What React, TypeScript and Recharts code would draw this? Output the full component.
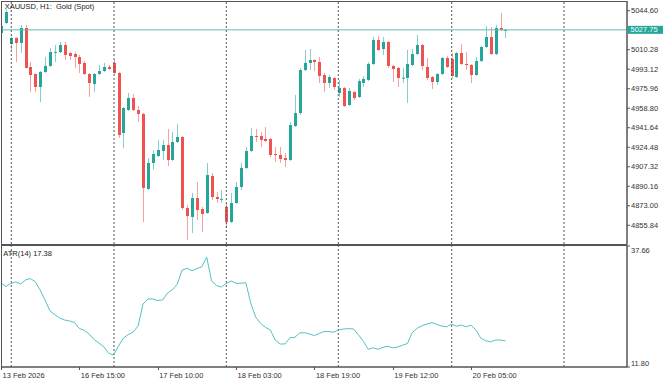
import React from 'react';
import { ComposedChart, Bar, Line, XAxis, YAxis, ReferenceLine } from 'recharts';

const barIndex = Array.from({ length: 104 }, (_, k) => k + 1);

const opens = [
  5024.98, 5033.78, 5015.31, 5020.59, 5016.19, 5029.38, 4995.08, 4988.92, 4977.48, 4990.68,
  4995.96, 5007.50, 5008.27, 5014.43, 5007.39, 5006.51, 5003.87, 4998.60, 4988.92, 4980.12,
  4988.92, 4991.56, 4995.08, 4998.60, 4989.80, 4937.02, 4957.25, 4967.81, 4957.25, 4953.74,
  4887.77, 4910.64, 4916.79, 4921.19, 4926.47, 4913.27, 4929.11, 4933.50, 4871.05, 4863.14,
  4879.85, 4870.17, 4866.66, 4899.20, 4880.73, 4878.40, 4871.93, 4858.74, 4875.45, 4889.52,
  4906.24, 4921.19, 4934.38, 4934.38, 4931.75, 4931.75, 4918.55, 4917.67, 4915.03, 4913.27,
  4943.18, 4954.62, 4992.44, 4998.60, 5001.23, 4999.47, 4988.04, 4981.00, 4985.40, 4972.21,
  4976.61, 4961.65, 4973.09, 4968.69, 4981.00, 4983.64, 4997.72, 5018.83, 5010.91, 5017.07,
  4995.96, 4994.20, 4985.20, 4985.40, 4996.84, 5006.51, 5014.43, 4995.08, 4986.28, 4981.88,
  4988.92, 5002.99, 5002.11, 4986.28, 5007.39, 4997.72, 4996.84, 4988.04, 5000.35, 5012.67,
  5021.46, 5006.51, 5029.38, 5027.40,
];

const highs = [
  5032.02, 5046.09, 5021.46, 5021.46, 5032.02, 5032.02, 4999.47, 4989.50, 4991.56, 5003.87,
  5011.79, 5014.43, 5017.07, 5017.07, 5008.27, 5008.27, 5005.63, 5000.35, 4989.80, 4989.80,
  4996.84, 4998.60, 4996.84, 5001.23, 4990.68, 4959.89, 4972.21, 4971.33, 4960.77, 4954.62,
  4915.03, 4922.07, 4930.87, 4930.87, 4940.54, 4937.90, 4944.94, 4934.38, 4873.69, 4884.25,
  4893.92, 4871.93, 4910.64, 4901.84, 4885.13, 4886.89, 4875.45, 4884.25, 4893.92, 4910.64,
  4924.71, 4941.42, 4940.54, 4937.90, 4942.30, 4932.63, 4924.71, 4924.71, 4919.43, 4946.70,
  4970.45, 4994.20, 5010.03, 5010.91, 5002.11, 5003.87, 4989.80, 4988.04, 4986.28, 4983.64,
  4977.48, 4976.61, 4973.97, 4984.52, 4987.16, 4999.47, 5021.46, 5022.34, 5021.46, 5017.95,
  4996.84, 4995.08, 4994.20, 5010.03, 5010.91, 5023.22, 5015.31, 5002.99, 4987.16, 4989.80,
  5003.87, 5004.75, 5007.39, 5008.27, 5015.31, 5008.27, 4997.72, 5003.87, 5013.55, 5031.14,
  5030.26, 5032.02, 5042.58, 5028.60,
];

const lows = [
  5024.10, 5032.90, 5010.03, 4999.47, 5007.39, 4993.80, 4973.09, 4973.09, 4964.29, 4989.80,
  4995.08, 4999.47, 5007.39, 5001.23, 5001.23, 4994.20, 4989.80, 4988.04, 4968.69, 4973.09,
  4988.04, 4990.68, 4992.44, 4988.92, 4932.63, 4923.83, 4956.37, 4956.37, 4946.70, 4858.74,
  4886.89, 4904.48, 4915.91, 4913.27, 4908.00, 4912.39, 4928.23, 4869.29, 4842.91, 4849.06,
  4860.50, 4849.94, 4865.78, 4878.09, 4875.45, 4875.45, 4853.46, 4857.86, 4874.57, 4886.89,
  4905.36, 4920.31, 4929.11, 4924.71, 4929.11, 4915.91, 4911.51, 4910.64, 4907.12, 4912.39,
  4942.30, 4952.86, 4991.56, 4992.44, 4991.56, 4981.00, 4973.09, 4976.61, 4974.85, 4968.69,
  4959.89, 4960.77, 4966.05, 4967.81, 4977.48, 4982.76, 4996.84, 5009.15, 5005.63, 4994.20,
  4981.88, 4977.48, 4981.00, 4963.41, 4995.96, 5005.63, 4992.44, 4983.64, 4975.73, 4979.24,
  4988.04, 4994.20, 4985.40, 4985.40, 4996.84, 4992.44, 4981.00, 4987.16, 4999.47, 5011.79,
  5005.63, 5005.63, 5026.74, 5020.59,
];

const closes = [
  5031.14, 5043.45, 5020.59, 5016.19, 5029.38, 4994.20, 4988.04, 4977.48, 4990.68, 4995.96,
  5008.27, 5008.40, 5014.43, 5005.63, 5004.75, 5003.87, 4997.72, 4988.92, 4981.00, 4988.92,
  4991.56, 4995.08, 4993.32, 4989.80, 4935.26, 4959.01, 4967.81, 4957.25, 4953.74, 4888.65,
  4910.64, 4918.55, 4922.07, 4926.47, 4913.27, 4929.11, 4933.50, 4871.05, 4864.02, 4879.85,
  4869.29, 4865.78, 4900.08, 4880.73, 4878.97, 4879.10, 4858.74, 4875.45, 4889.52, 4906.24,
  4921.19, 4934.38, 4933.50, 4930.87, 4929.99, 4917.67, 4917.67, 4914.15, 4913.27, 4944.06,
  4954.62, 4992.44, 4998.60, 5001.23, 4999.47, 4987.16, 4981.00, 4986.28, 4977.48, 4976.61,
  4960.77, 4973.97, 4967.81, 4982.76, 4984.52, 4997.72, 5018.83, 5010.03, 5017.07, 4995.96,
  4993.32, 4985.40, 4985.70, 4997.72, 5006.51, 5014.43, 4995.96, 4985.40, 4981.88, 4988.92,
  5002.99, 4995.08, 4987.16, 5007.39, 4997.72, 4996.84, 4988.04, 5000.35, 5012.67, 5021.46,
  5006.51, 5029.38, 5027.62, 5027.75,
];

const atrValues = [
  29.75, 29.00, 29.65, 29.97, 29.54, 30.39, 30.71, 30.03, 28.26, 26.12,
  23.77, 22.98, 22.27, 21.84, 21.63, 21.31, 20.03, 19.64, 18.85, 17.68,
  16.93, 16.12, 14.73, 14.37, 16.29, 18.00, 18.75, 19.28, 20.56, 25.26,
  26.33, 26.33, 26.01, 26.12, 27.62, 28.30, 29.54, 32.53, 32.89, 32.38,
  32.85, 33.21, 35.31, 30.18, 29.22, 28.90, 29.65, 30.18, 29.69, 29.69,
  29.82, 25.48, 22.49, 21.10, 20.28, 19.71, 17.57, 16.72, 16.72, 18.04,
  18.15, 19.07, 19.13, 18.85, 18.53, 18.96, 19.39, 19.37, 19.24, 19.77,
  19.92, 20.01, 19.92, 18.68, 17.29, 15.58, 15.90, 15.58, 15.99, 16.25,
  15.90, 16.07, 16.44, 16.82, 19.17, 20.09, 20.63, 20.99, 21.27, 20.90,
  20.54, 20.39, 20.99, 20.50, 20.78, 20.41, 20.75, 19.71, 17.93, 17.40,
  17.19, 17.57, 17.57, 17.38,
];

const timeTickBars = [1, 17, 33, 49, 65, 81, 97];
const timeTickLabels = ['13 Feb 2026', '16 Feb 15:00', '17 Feb 10:00', '18 Feb 03:00', '18 Feb 19:00', '19 Feb 12:00', '20 Feb 05:00'];
const priceTicks = [5044.60, 5010.28, 4993.12, 4975.96, 4958.80, 4941.64, 4924.48, 4907.32, 4890.16, 4873.00, 4855.84];
const priceDomain = [4839.38, 5053.13];
const atrTicks = [11.80, 37.66];
const gridBars = [3.1, 24.08, 47.01, 69.88, 93.04, 115.97];
const barDomain = [1, 128.84];
const currentPrice = 5027.75;
const atrLast = 17.38;
const symbolTitle = 'XAUUSD, H1:  Gold (Spot)';

const data = barIndex.map((b, k) => ({
  bar: b,
  range: [lows[k], highs[k]],
  open: opens[k],
  high: highs[k],
  low: lows[k],
  close: closes[k],
  atr: atrValues[k],
}));

const UP = '#26a69a';
const DOWN = '#ef5350';
const FONT = '"Liberation Sans", Arial, sans-serif';
const TXT = '#333';
const FS = 7.5;

const Candle = (props: any) => {
  const { x, y, width, height, payload } = props;
  if (x == null || y == null || !payload) return null;
  const top = Math.min(y, y + height);
  const h = Math.abs(height);
  const { open, close, high, low } = payload;
  const span = high - low;
  const toY = (v: number) => (span === 0 ? top : top + ((high - v) / span) * h);
  const up = close >= open;
  const color = up ? UP : DOWN;
  const cx = Math.round(x + width / 2) + 0.5;
  const bTop = toY(Math.max(open, close));
  const bBot = toY(Math.min(open, close));
  return (
    <g>
      <line x1={cx} x2={cx} y1={top} y2={top + h} stroke={color} strokeOpacity={0.55} strokeWidth={1} />
      <rect x={cx - 1.5} y={bTop} width={3} height={Math.max(1, bBot - bTop)} fill={color} />
    </g>
  );
};

const PriceTick = (props: any) => {
  const { y, payload } = props;
  return (
    <g>
      <line x1={627} x2={630} y1={y} y2={y} stroke="#555" />
      <text x={631} y={y} dy="0.35em" fontSize={FS} fill={TXT} fontFamily={FONT}>
        {Number(payload.value).toFixed(2)}
      </text>
    </g>
  );
};

const AtrTick = (props: any) => {
  const { y, payload } = props;
  const isTop = payload.value === atrTicks[atrTicks.length - 1];
  return (
    <g>
      <line x1={627} x2={630} y1={y} y2={y} stroke="#555" />
      <text x={631} y={y + (isTop ? 4 : -3.7)} dy="0.35em" fontSize={FS} fill={TXT} fontFamily={FONT}>
        {Number(payload.value).toFixed(2)}
      </text>
    </g>
  );
};

const TimeTick = (props: any) => {
  const { x, payload } = props;
  const idx = timeTickBars.indexOf(payload.value);
  return (
    <g>
      <line x1={Math.round(x) + 0.5} x2={Math.round(x) + 0.5} y1={122} y2={125} stroke="#555" />
      <text x={x + 1.5} y={130} dy="0.35em" fontSize={FS} fill={TXT} fontFamily={FONT}>
        {timeTickLabels[idx]}
      </text>
    </g>
  );
};

const PriceLabel = (props: any) => {
  const vb = props.viewBox || {};
  const y = vb.y;
  return (
    <g>
      <rect x={628} y={y - 4} width={35} height={8} fill={UP} />
      <text x={630.5} y={y} dy="0.35em" fontSize={FS} fill="#e8fffb" fontFamily={FONT}>
        {currentPrice.toFixed(2)}
      </text>
    </g>
  );
};

export default function App() {
  return (
    <div style={{ position: 'absolute', left: 0, top: 0, width: 670, height: 382, background: '#fff', fontFamily: FONT }}>
      <div style={{ position: 'absolute', left: 0, top: 0 }}>
        <ComposedChart width={670} height={246} data={data} margin={{ top: 1, right: 0, bottom: 2, left: 1 }}>
          <XAxis dataKey="bar" type="number" domain={barDomain} allowDataOverflow hide />
          <YAxis
            orientation="right"
            type="number"
            domain={priceDomain}
            allowDataOverflow
            ticks={priceTicks}
            interval={0}
            width={43}
            axisLine={{ stroke: '#555' }}
            tickLine={false}
            tick={<PriceTick />}
          />
          {gridBars.map((g) => (
            <ReferenceLine key={g} x={g} stroke="#555" strokeDasharray="2 2" />
          ))}
          <Bar dataKey="range" barSize={3} shape={<Candle />} isAnimationActive={false} />
          <ReferenceLine y={currentPrice} stroke="#5fbcb2" label={<PriceLabel />} />
        </ComposedChart>
      </div>
      <div style={{ position: 'absolute', left: 0, top: 245 }}>
        <ComposedChart width={670} height={137} data={data} margin={{ top: 1, right: 0, bottom: 0, left: 1 }}>
          <XAxis
            dataKey="bar"
            type="number"
            domain={barDomain}
            allowDataOverflow
            ticks={timeTickBars}
            interval={0}
            height={15}
            axisLine={{ stroke: '#555' }}
            tickLine={false}
            tick={<TimeTick />}
          />
          <YAxis
            orientation="right"
            type="number"
            domain={[atrTicks[0], atrTicks[1]]}
            allowDataOverflow
            ticks={atrTicks}
            interval={0}
            width={43}
            axisLine={{ stroke: '#555' }}
            tickLine={false}
            tick={<AtrTick />}
          />
          {gridBars.map((g) => (
            <ReferenceLine key={g} x={g} stroke="#555" strokeDasharray="2 2" />
          ))}
          <Line dataKey="atr" type="linear" stroke="#55c2c2" strokeWidth={1} dot={false} isAnimationActive={false} />
        </ComposedChart>
      </div>
      <svg width={670} height={382} style={{ position: 'absolute', left: 0, top: 0, pointerEvents: 'none' }}>
        <rect x={1.5} y={1.5} width={625.5} height={243} fill="none" stroke="#555" />
        <rect x={1.5} y={245.5} width={625.5} height={121.5} fill="none" stroke="#555" />
        <text x={4.7} y={6.7} dy="0.35em" fontSize={FS} fill="#222" fontFamily={FONT} style={{ whiteSpace: 'pre' }}>
          {symbolTitle}
        </text>
        <text x={3.3} y={253} dy="0.35em" fontSize={FS} fill="#222" fontFamily={FONT} style={{ whiteSpace: 'pre' }}>
          {`ATR(14) ${atrLast.toFixed(2)}`}
        </text>
      </svg>
    </div>
  );
}
